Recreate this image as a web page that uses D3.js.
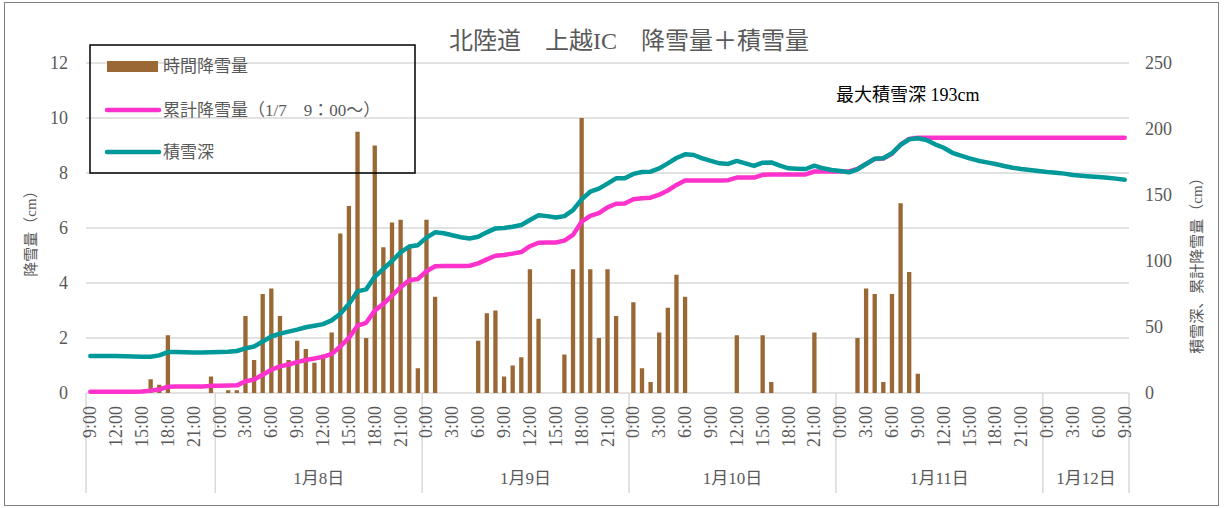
<!DOCTYPE html>
<html>
<head>
  <meta charset="utf-8" />
  <script src="https://cdn.jsdelivr.net/npm/d3@7/dist/d3.min.js"></script>
  <style>
    body { margin: 0; background: #fff; }
    svg text { font-family: "Liberation Serif", "Noto Sans CJK JP", serif; fill: #595959; }
    .grid line { stroke: #d9d9d9; stroke-width: 1.5px; }
    .sep line { stroke: #d9d9d9; stroke-width: 1.5px; }
  </style>
</head>
<body>
  <svg id="chart" width="1224" height="508"></svg>
  <script>
  // hourly snowfall (cm), 1/7 9:00 .. 1/12 9:00
  var hourly = [
    0, 0, 0, 0, 0, 0, 0, 0.5, 0.3, 2.1, 0, 0, 0, 0, 0.6,
    0, 0.1, 0.1, 2.8, 1.2, 3.6, 3.8, 2.8, 1.2, 1.9, 1.6, 1.1, 1.4, 2.2, 5.8, 6.8, 9.5, 2.0, 9.0, 5.3, 6.2, 6.3, 5.3, 0.9,
    6.3, 3.5, 0, 0, 0, 0, 1.9, 2.9, 3.0, 0.6, 1.0, 1.3, 4.5, 2.7, 0, 0, 1.4, 4.5, 10.0, 4.5, 2.0, 4.5, 2.8, 0,
    3.3, 0.9, 0.4, 2.2, 3.1, 4.3, 3.5, 0, 0, 0, 0, 0, 2.1, 0, 0, 2.1, 0.4, 0, 0, 0, 0, 2.2, 0, 0, 0, 0,
    2.0, 3.8, 3.6, 0.4, 3.6, 6.9, 4.4, 0.7, 0, 0, 0, 0, 0, 0, 0, 0, 0, 0, 0, 0, 0, 0, 0, 0,
    0, 0, 0, 0, 0, 0, 0, 0
  ]
  // cumulative snowfall since 1/7 9:00 (cm)
  var cumulative = [
    1, 1, 1, 1, 1, 1, 1.2, 1.8, 2.6, 4.8, 5, 5, 5, 5, 5.4,
    5.5, 5.6, 5.8, 8.8, 10.2, 13.8, 17.6, 20.2, 21.6, 23.4, 25, 26.1, 27.4, 29.6, 35.2, 41.8, 51, 53.2, 62.4, 67.6, 73.8, 80.2, 85.4, 86.4,
    92.2, 96, 96.2, 96.2, 96.2, 96.4, 98.2, 101.2, 104, 104.6, 105.6, 106.8, 111.2, 113.8, 114, 114, 115.4, 119.8, 129.8, 134.2, 136.2, 140.6, 143.4, 143.6,
    146.8, 147.6, 148, 150.2, 153.4, 157.6, 161, 161, 161, 161, 161, 161.2, 163.2, 163.2, 163.2, 165.3, 165.6, 165.6, 165.6, 165.6, 165.6, 167.8, 167.8, 167.8, 167.8, 167.8,
    169.8, 173.6, 177.2, 177.6, 181.2, 188.1, 192.5, 193.4, 193.4, 193.4, 193.4, 193.4, 193.4, 193.4, 193.4, 193.4, 193.4, 193.4, 193.4, 193.4, 193.4, 193.4, 193.4, 193.4,
    193.4, 193.4, 193.4, 193.4, 193.4, 193.4, 193.4, 193.4
  ]
  // snow depth (cm)
  var depth = [
    28, 28, 28, 28, 27.8, 27.6, 27.5, 27.5, 28.5, 31, 31, 30.8, 30.6, 30.6, 30.8,
    31, 31.2, 31.8, 33.8, 35.2, 39, 42.8, 45, 46.5, 48, 49.8, 51, 52.2, 55, 60, 67.5, 77, 78.5, 88, 94, 100, 106.5, 111, 112,
    117.7, 121.7, 121, 119.5, 118, 117, 118.4, 121.7, 124.7, 125, 126, 127.3, 131, 134.6, 134, 133, 134, 138.6, 146.7, 152.5, 154.8, 158.6, 162.6, 162.6,
    166, 167.4, 167.7, 170.2, 174, 178, 180.8, 180.3, 177.8, 175.8, 174, 173.5, 175.8, 174, 172, 174.5, 174.7, 172.2, 170.2, 169.9, 169.7, 172.2, 170.2, 169, 168.2, 167.2,
    169.5, 173.5, 177.5, 177.8, 181.6, 187.9, 192.2, 193, 191.7, 188.4, 185.8, 182, 179.8, 177.8, 176, 174.7, 173.5, 172, 170.7, 169.7, 169, 168.2, 167.4, 166.9,
    166.2, 165.2, 164.6, 164.1, 163.6, 163.1, 162.4, 161.6
  ]
  var startHour = 9
  var dayLabels = ["", "1月8日", "1月9日", "1月10日", "1月11日", "1月12日"]
  var dayStarts = [0, 15, 39, 63, 87, 111, 121]
  var leftTicks = [0, 2, 4, 6, 8, 10, 12]
  var rightTicks = [0, 50, 100, 150, 200, 250]
  var seriesNames = ["時間降雪量", "累計降雪量（1/7　9：00～）", "積雪深"]

  var svg = d3.select('#chart')
  var plotLeft = 86, plotRight = 1129, plotTop = 63, plotBottom = 393

  var x = d3.scaleBand().domain(d3.range(hourly.length)).range([plotLeft, plotRight]).padding(0)
  var yL = d3.scaleLinear().domain([0, 12]).range([plotBottom, plotTop])
  var yR = d3.scaleLinear().domain([0, 250]).range([plotBottom, plotTop])
  var cx = function(i) { return x(i) + x.bandwidth() / 2 }
  var edge = function(i) { return i < hourly.length ? x(i) : plotRight }

  // outer frame
  svg.append('rect').attr('x', 4.5).attr('y', 2.5).attr('width', 1214).attr('height', 503)
     .attr('fill', 'none').attr('stroke', '#7f7f7f').attr('stroke-width', 1)

  // gridlines
  svg.append('g').attr('class', 'grid').selectAll('line')
     .data(leftTicks).enter().append('line')
     .attr('x1', plotLeft).attr('x2', plotRight)
     .attr('y1', d => yL(d)).attr('y2', d => yL(d))

  // category separators
  svg.append('g').attr('class', 'sep').selectAll('line')
     .data(dayStarts).enter().append('line')
     .attr('x1', d => edge(d)).attr('x2', d => edge(d))
     .attr('y1', plotBottom).attr('y2', 493)

  // axes
  var gL = svg.append('g').attr('transform', 'translate(' + plotLeft + ',0)')
     .call(d3.axisLeft(yL).tickValues(leftTicks).tickSize(0).tickPadding(18))
  var gR = svg.append('g').attr('transform', 'translate(' + plotRight + ',0)')
     .call(d3.axisRight(yR).tickValues(rightTicks).tickSize(0).tickPadding(16))
  ;[gL, gR].forEach(g => {
    g.select('.domain').remove()
    g.selectAll('text').style('font-size', '18px').attr('fill', '#595959')
      .style('font-family', '"Liberation Serif", serif')
  })

  // hour labels
  svg.append('g').selectAll('text')
     .data(d3.range(hourly.length).filter(i => i % 3 === 0))
     .enter().append('text')
     .attr('transform', d => 'translate(' + (cx(d) + 6) + ',406) rotate(-90)')
     .attr('text-anchor', 'end')
     .style('font-size', '18px')
     .text(d => ((startHour + d) % 24) + ':00')

  // day labels
  svg.append('g').selectAll('text')
     .data(dayLabels).enter().append('text')
     .attr('x', (d, i) => (edge(dayStarts[i]) + edge(dayStarts[i + 1])) / 2)
     .attr('y', 484)
     .attr('text-anchor', 'middle')
     .style('font-size', '17px')
     .text(d => d)

  // bars
  var bw = x.bandwidth() * 0.5
  svg.append('g').selectAll('rect')
     .data(hourly).enter().append('rect')
     .attr('x', (d, i) => cx(i) - bw / 2)
     .attr('y', d => yL(d))
     .attr('width', bw)
     .attr('height', d => plotBottom - yL(d))
     .attr('fill', '#9a6834')

  // lines
  var line = d3.line().x((d, i) => cx(i)).y(d => yR(d))
  svg.append('path').datum(cumulative).attr('d', line)
     .attr('fill', 'none').attr('stroke', '#ff33cc').attr('stroke-width', 4.5)
     .attr('stroke-linejoin', 'round').attr('stroke-linecap', 'round')
  svg.append('path').datum(depth).attr('d', line)
     .attr('fill', 'none').attr('stroke', '#009999').attr('stroke-width', 4.5)
     .attr('stroke-linejoin', 'round').attr('stroke-linecap', 'round')

  // title and axis titles
  svg.append('text').attr('x', 629).attr('y', 49).attr('text-anchor', 'middle')
     .style('font-size', '24px').text('北陸道　上越IC　降雪量＋積雪量')
  svg.append('text').attr('transform', 'translate(36,230) rotate(-90)').attr('text-anchor', 'middle')
     .style('font-size', '15px').text('降雪量（cm）')
  svg.append('text').attr('transform', 'translate(1202,262) rotate(-90)').attr('text-anchor', 'middle')
     .style('font-size', '15px').text('積雪深、累計降雪量（cm）')
  svg.append('text').attr('x', 836).attr('y', 101).style('font-size', '18px')
     .style('fill', '#000').text('最大積雪深 193cm')

  // legend
  var lg = svg.append('g')
  lg.append('rect').attr('x', 90).attr('y', 45).attr('width', 325).attr('height', 128)
    .attr('fill', 'none').attr('stroke', '#000').attr('stroke-width', 1.5)
  var ly = [66, 110, 152]
  lg.append('rect').attr('x', 107).attr('y', 61).attr('width', 51).attr('height', 11).attr('fill', '#9a6834')
  lg.append('line').attr('x1', 107).attr('x2', 159).attr('y1', ly[1]).attr('y2', ly[1])
    .attr('stroke', '#ff33cc').attr('stroke-width', 4.5).attr('stroke-linecap', 'round')
  lg.append('line').attr('x1', 107).attr('x2', 159).attr('y1', ly[2]).attr('y2', ly[2])
    .attr('stroke', '#009999').attr('stroke-width', 4.5).attr('stroke-linecap', 'round')
  lg.selectAll('text.lab').data(seriesNames).enter().append('text')
    .attr('x', 163).attr('y', (d, i) => ly[i]).attr('dy', '0.35em')
    .style('font-size', '17px').text(d => d)
  </script>
</body>
</html>
